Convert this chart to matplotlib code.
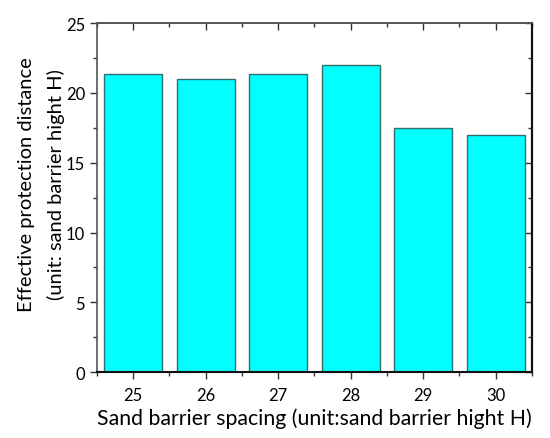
import matplotlib
matplotlib.use("Agg")
import matplotlib.pyplot as plt
from matplotlib.ticker import MultipleLocator

spacing = [25, 26, 27, 28, 29, 30]
distance = [21.37, 21.0, 21.37, 22.0, 17.5, 17.0]

plt.rcParams['font.family'] = ['Lato', 'DejaVu Sans']

fig = plt.figure(figsize=(5.5, 4.39), dpi=100)
ax = fig.add_axes([0.176, 0.150, 0.791, 0.795])

ax.bar(spacing, distance, width=0.8, color='#00FFFF', edgecolor='#2F6F6F', linewidth=1.0)

ax.set_xlim(24.5, 30.5)
ax.set_ylim(0, 25)
ax.set_xticks(spacing)
ax.xaxis.set_minor_locator(MultipleLocator(0.5))
ax.yaxis.set_major_locator(MultipleLocator(5))
ax.yaxis.set_minor_locator(MultipleLocator(2.5))

ax.tick_params(axis='both', which='major', direction='out', length=5, width=1, labelsize=12, color='#333333')
ax.tick_params(axis='both', which='minor', direction='out', length=3, width=1, color='#333333')
ax.tick_params(axis='x', which='major', pad=6)

# mirrored ticks pointing inward on top and right
top = ax.secondary_xaxis('top')
top.set_xticks(spacing)
top.xaxis.set_minor_locator(MultipleLocator(0.5))
top.tick_params(which='major', direction='in', length=5, width=1, labeltop=False, color='#333333')
top.tick_params(which='minor', direction='in', length=3, width=1, color='#333333')
top.spines['top'].set_color('#555555')
top.spines['top'].set_linewidth(1.2)

right = ax.secondary_yaxis('right')
right.yaxis.set_major_locator(MultipleLocator(5))
right.yaxis.set_minor_locator(MultipleLocator(2.5))
right.tick_params(which='major', direction='in', length=5, width=1, labelright=False, color='#333333')
right.tick_params(which='minor', direction='in', length=3, width=1, color='#333333')
right.spines['right'].set_color('#111111')
right.spines['right'].set_linewidth(1.5)

for s in ['left', 'top']:
    ax.spines[s].set_color('#555555')
    ax.spines[s].set_linewidth(1.2)
for s in ['right', 'bottom']:
    ax.spines[s].set_color('#111111')
    ax.spines[s].set_linewidth(1.5)

ax.set_xlabel('Sand barrier spacing (unit:sand barrier hight H)', fontsize=15.3, labelpad=3)
ax.set_ylabel('Effective protection distance\n(unit: sand barrier hight H)', fontsize=14.5, linespacing=1.75)
ax.yaxis.set_label_coords(-0.074, 0.54)

fig.savefig('out.png', dpi=100)
